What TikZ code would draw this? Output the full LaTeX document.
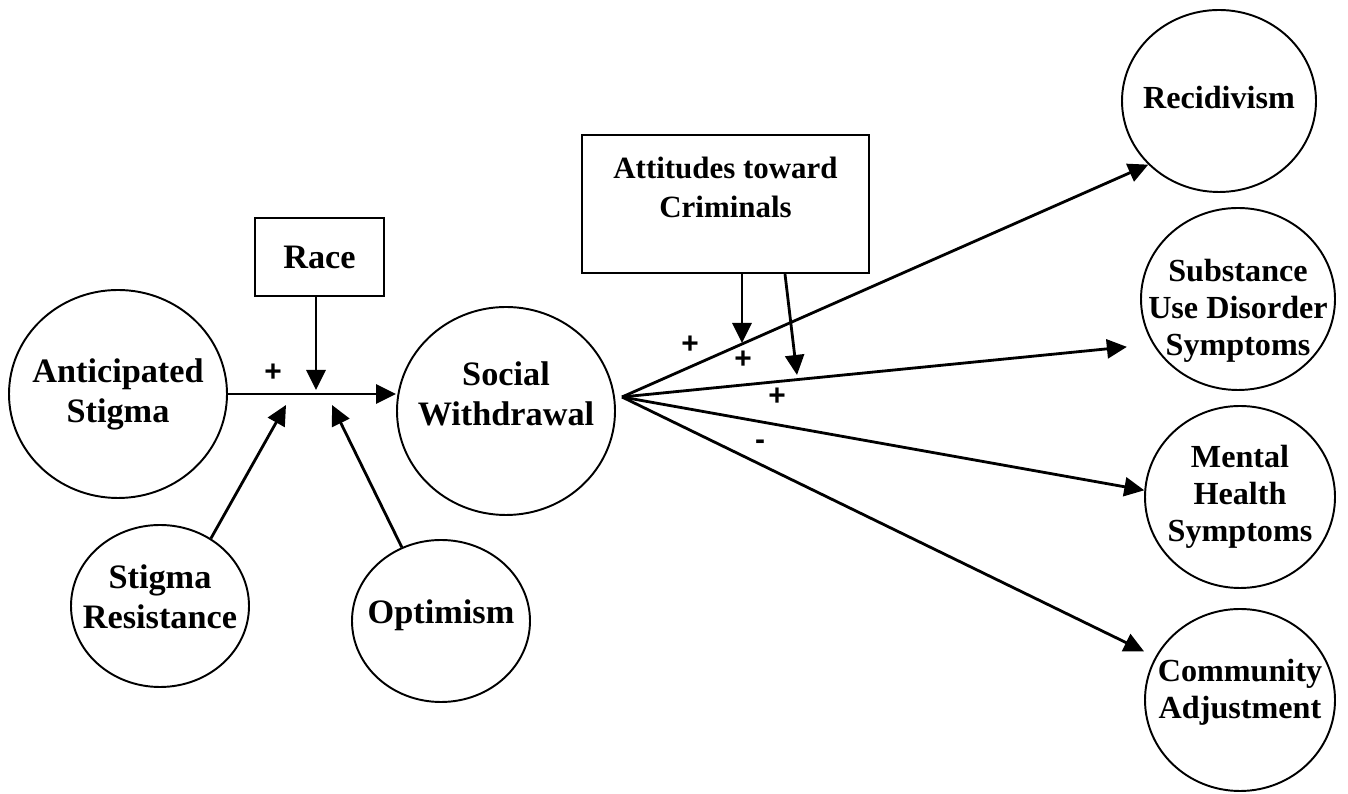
\documentclass[tikz,border=0pt]{standalone}
\usepackage{fontspec}
\setmainfont{Liberation Serif}
\newfontfamily\signfont{Liberation Sans}
\usepackage{xcolor}
\usepackage{tikz}
\usetikzlibrary{shapes.geometric, arrows.meta, positioning, calc}

\begin{document}
\begin{tikzpicture}[
    var/.style={draw, ellipse, line width=1.1pt, inner sep=0pt},
    bigvar/.style={var, minimum width=4.36cm, minimum height=4.16cm},
    smallvar/.style={var, minimum width=3.56cm, minimum height=3.24cm},
    outvar/.style={var, minimum width=3.88cm, minimum height=3.64cm},
    modbox/.style={draw, line width=1.3pt, inner sep=0pt},
    txtL/.style={align=center, font=\fontsize{19.5}{22.7}\selectfont\bfseries},
    txtR/.style={align=center, font=\fontsize{18.3}{21}\selectfont\bfseries},
    txtA/.style={align=center, font=\fontsize{17.6}{22}\selectfont\bfseries},
    arr/.style={-{Triangle[length=0.4cm, width=0.38cm]}, line width=1.6pt},
    sign/.style={font=\fontsize{17}{17}\signfont\bfseries}
]
    \useasboundingbox (0,0) rectangle (26.96,15.88);

    % Anticipated Stigma
    \node[bigvar, label={[txtL]center:Anticipated\\Stigma}] (antic) at (2.36,8.00) {};

    % Race
    \node[modbox, minimum width=2.58cm, minimum height=1.56cm, txtL] (race) at (6.39,10.74) {Race};

    % Social Withdrawal
    \node[bigvar, label={[txtL, yshift=0.34cm]center:Social\\Withdrawal}] (social) at (10.12,7.66) {};

    % Stigma Resistance and Optimism
    \node[smallvar, label={[txtL, yshift=0.18cm]center:Stigma\\Resistance}] (resist) at (3.20,3.76) {};
    \node[smallvar, label={[txtL, yshift=0.12cm]center:Optimism}] (optim) at (8.82,3.46) {};

    % Attitudes toward Criminals
    \node[modbox, minimum width=5.74cm, minimum height=2.76cm,
          label={[txtA, yshift=0.33cm]center:Attitudes toward\\Criminals}] (att) at (14.51,11.80) {};

    % Outcomes
    \node[outvar, label={[txtR, yshift=0.06cm]center:Recidivism}] (recid) at (24.38,13.86) {};
    \node[outvar, label={[txtR, yshift=-0.24cm]center:Substance\\Use Disorder\\Symptoms}] (subst) at (24.76,9.90) {};
    \node[outvar, minimum width=3.80cm, label={[txtR]center:Mental\\Health\\Symptoms}] (mental) at (24.80,5.94) {};
    \node[outvar, minimum width=3.80cm, label={[txtR, yshift=0.16cm]center:Community\\Adjustment}] (commun) at (24.80,1.88) {};

    % Meeting points
    \coordinate (modA) at (6.32,8.08);
    \coordinate (modB) at (5.72,7.78);
    \coordinate (modC) at (6.64,7.78);
    \coordinate (fan) at (12.44,7.94);
    \coordinate (attA) at (14.84,9.02);
    \coordinate (attB) at (15.94,8.38);

    % Paths
    \draw[arr] (antic.east) -- (antic.east -| social.west);
    \draw[arr] (race.south -| modA) -- (modA);
    \draw[arr] (resist.53) -- (modB);
    \draw[arr] (optim.118) -- (modC);

    \draw[arr] (fan) -- (recid.222);
    \draw[arr, shorten >=0.52cm] (fan) -- (subst.208);
    \draw[arr] (fan) -- (mental.176);
    \draw[arr, shorten >=0.25cm] (fan) -- (commun.153);

    \draw[arr] (att.south -| attA) -- (attA);
    \draw[arr] ($(att.south)+(1.19,0)$) -- (attB);

    % Signs
    \node[sign] (s1) at (5.46,8.42) {+};
    \node[sign] (s2) at (13.80,8.98) {+};
    \node[sign] (s3) at (14.86,8.68) {+};
    \node[sign] (s4) at (15.54,7.94) {+};
    \node[sign] (s5) at (15.20,6.98) {-};
\end{tikzpicture}
\end{document}
